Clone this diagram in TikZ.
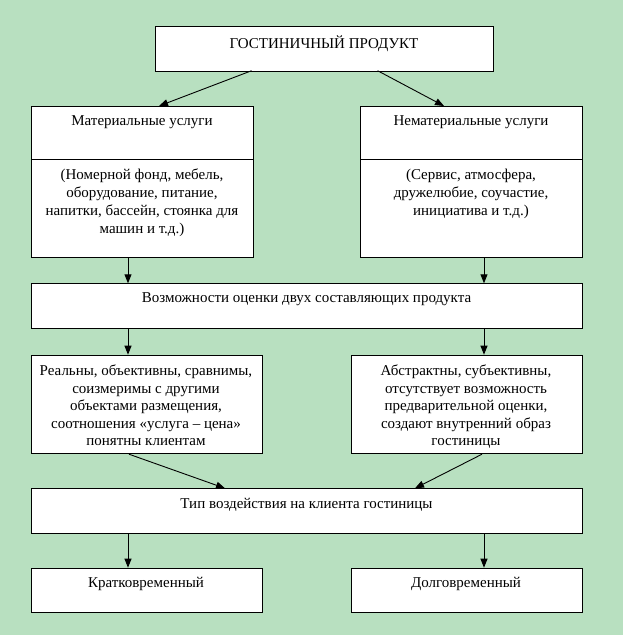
\documentclass[tikz,border=0pt]{standalone}
\usepackage{fontspec}
\setmainfont{Liberation Serif}
\usetikzlibrary{arrows.meta}
\definecolor{bg}{RGB}{184,224,192}
\begin{document}
\begin{tikzpicture}[x=1pt,y=-1pt,
  box/.style={draw=black,line width=1pt,fill=white,inner sep=0pt,anchor=north west},
  txt/.style={inner sep=0pt,align=center,anchor=north,font=\fontsize{15}{17.6}\selectfont},
  arr/.style={line width=0.9pt,-{Triangle[length=9pt,width=7pt]}}]
\fill[bg] (0,0) rectangle (623,635);
\useasboundingbox (0,0) rectangle (623,635);
% top
\node[box,minimum width=338pt,minimum height=44.7pt] (top) at (155,26) {};
\node[txt] (ttop) at (324,35.5) {ГОСТИНИЧНЫЙ ПРОДУКТ};
% material
\node[box,minimum width=222pt,minimum height=53pt] (mat) at (31,106) {};
\node[box,minimum width=222pt,minimum height=98pt] (matb) at (31,159) {};
\node[txt] (tmat) at (142,115.5) {Материальные услуги};
\node[txt,font=\fontsize{15}{18}\selectfont] (tmatb) at (142,168.5) {(Номерной фонд, мебель,\\оборудование, питание,\\напитки, бассейн, стоянка для\\машин и т.д.)};
% nonmaterial
\node[box,minimum width=222pt,minimum height=53pt] (nmat) at (360,106) {};
\node[box,minimum width=222pt,minimum height=98pt] (nmatb) at (360,159) {};
\node[txt] (tnmat) at (471,115.5) {Нематериальные услуги};
\node[txt,font=\fontsize{15}{18}\selectfont] (tnmatb) at (471,168.5) {(Сервис, атмосфера,\\дружелюбие, соучастие,\\инициатива и т.д.)};
% evaluation
\node[box,minimum width=551pt,minimum height=45pt] (eval) at (31,283.3) {};
\node[txt] (teval) at (306.5,292.8) {Возможности оценки двух составляющих продукта};
% real / abstract
\node[box,minimum width=230.5pt,minimum height=98.5pt] (real) at (31,354.7) {};
\node[txt] (treal) at (146,364.5) {Реальны, объективны, сравнимы,\\соизмеримы с другими\\объектами размещения,\\соотношения «услуга – цена»\\понятны клиентам};
\node[box,minimum width=231.5pt,minimum height=98.5pt] (abs) at (350.5,354.7) {};
\node[txt] (tabs) at (466,364.5) {Абстрактны, субъективны,\\отсутствует возможность\\предварительной оценки,\\создают внутренний образ\\гостиницы};
% type
\node[box,minimum width=551pt,minimum height=44.4pt] (type) at (31,488.3) {};
\node[txt] (ttype) at (306.5,497.8) {Тип воздействия на клиента гостиницы};
% bottom
\node[box,minimum width=230.5pt,minimum height=44.6pt] (short) at (31,567.7) {};
\node[txt] (tshort) at (146,577.2) {Кратковременный};
\node[box,minimum width=231.5pt,minimum height=44.6pt] (long) at (350.5,567.7) {};
\node[txt] (tlong) at (466,577.2) {Долговременный};
% arrows
\coordinate (a1s) at (251.6,70.7); \coordinate (a1e) at (159,106);
\coordinate (a2s) at (377.6,70.7); \coordinate (a2e) at (444,106);
\draw[arr] (a1s) -- (a1e);
\draw[arr] (a2s) -- (a2e);
\draw[arr] (matb.south west -| 128,0) -- (eval.north west -| 128,0);
\draw[arr] (nmatb.south west -| 484,0) -- (eval.north west -| 484,0);
\draw[arr] (eval.south west -| 128,0) -- (real.north west -| 128,0);
\draw[arr] (eval.south west -| 484,0) -- (abs.north west -| 484,0);
\draw[arr] (real.south west -| 129,0) -- (type.north west -| 225,0);
\draw[arr] (abs.south west -| 482,0) -- (type.north west -| 415,0);
\draw[arr] (type.south west -| 128,0) -- (short.north west -| 128,0);
\draw[arr] (type.south west -| 484,0) -- (long.north west -| 484,0);
\end{tikzpicture}
\end{document}
